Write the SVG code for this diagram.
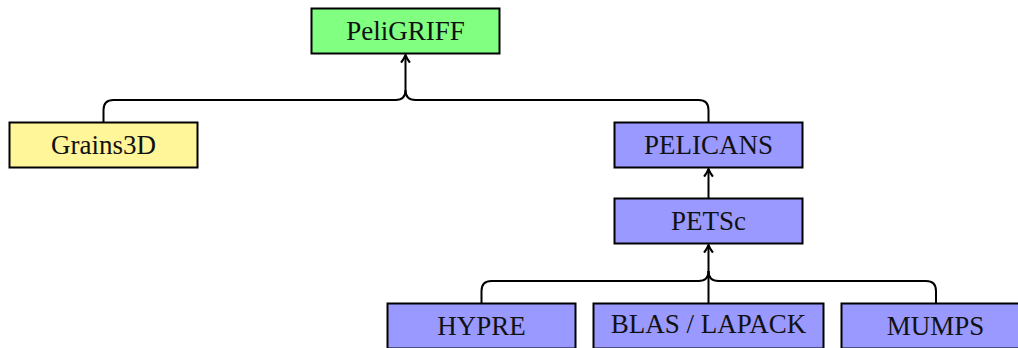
<svg xmlns="http://www.w3.org/2000/svg" width="1018" height="348" viewBox="0 0 1018 348">
<style>
.box{stroke:#000;stroke-width:2}
.t{font-family:"Liberation Serif","DejaVu Serif",serif;font-size:27px;fill:#111;text-anchor:middle;dominant-baseline:central}
.c{fill:none;stroke:#000;stroke-width:2}
</style>
<defs>
<marker id="a" viewBox="0 0 10 10" refX="9" refY="5" markerWidth="11" markerHeight="11" orient="auto" markerUnits="userSpaceOnUse">
<path d="M2,1 Q6,4 9,5 Q6,6 2,9" fill="none" stroke="#000" stroke-width="2"/>
</marker>
</defs>
<g id="connectors">
<path class="c" d="M103.5,122 V110 Q103.5,100 113.5,100 H395.5 Q405.5,100 405.5,90 V55" marker-end="url(#a)"/>
<path class="c" d="M708.5,122 V110 Q708.5,100 698.5,100 H415.5 Q405.5,100 405.5,90"/>
<path class="c" d="M708.5,198 V169" marker-end="url(#a)"/>
<path class="c" d="M481.5,303 V291 Q481.5,281 491.5,281 H698.5 Q708.5,281 708.5,271 V245" marker-end="url(#a)"/>
<path class="c" d="M936,303 V291 Q936,281 926,281 H718.5 Q708.5,281 708.5,271"/>
<path class="c" d="M708.5,303 V271"/>
</g>
<g id="peligriff"><rect class="box" x="311.5" y="8.5" width="188" height="45" fill="#80FF80"/><text class="t" x="405.5" y="31">PeliGRIFF</text></g>
<g id="grains3d"><rect class="box" x="9.5" y="122.5" width="188" height="45" fill="#FFF599"/><text class="t" x="103.5" y="145">Grains3D</text></g>
<g id="pelicans"><rect class="box" x="614.5" y="122.5" width="188" height="45" fill="#9999FF"/><text class="t" x="708.5" y="145">PELICANS</text></g>
<g id="petsc"><rect class="box" x="614.5" y="198.5" width="188" height="45" fill="#9999FF"/><text class="t" x="708.5" y="221">PETSc</text></g>
<g id="hypre"><rect class="box" x="387.5" y="303.5" width="188" height="45" fill="#9999FF"/><text class="t" x="481.5" y="326">HYPRE</text></g>
<g id="blas"><rect class="box" x="593.5" y="303.5" width="230" height="45" fill="#9999FF"/><text class="t" x="708.5" y="324">BLAS / LAPACK</text></g>
<g id="mumps"><rect class="box" x="841.5" y="303.5" width="188" height="45" fill="#9999FF"/><text class="t" x="935.5" y="326">MUMPS</text></g>
</svg>
